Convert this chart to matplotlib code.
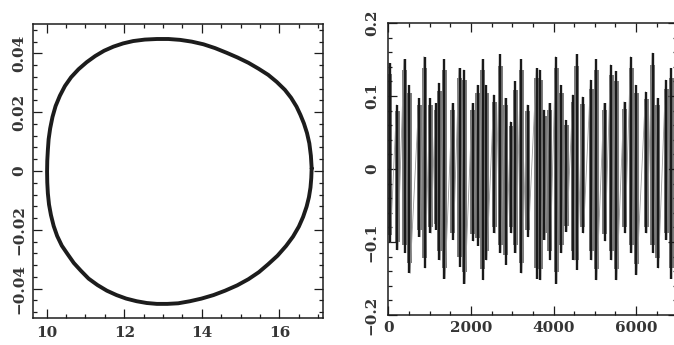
import numpy as np
import matplotlib
matplotlib.use("Agg")
import matplotlib.pyplot as plt
from matplotlib.ticker import MultipleLocator, FixedLocator

# ---------------- data ----------------
# Left panel: closed orbit (phase portrait)
loop_x = [16.83, 16.81, 16.77, 16.71, 16.63, 16.54, 16.44, 16.30, 16.14, 15.93,
          15.71, 15.46, 15.20, 14.92, 14.64, 14.34, 14.04, 13.74, 13.44, 13.14,
          12.84, 12.53, 12.23, 11.97, 11.72, 11.48, 11.25, 11.03, 10.82, 10.63,
          10.47, 10.34, 10.23, 10.15, 10.09, 10.05, 10.03, 10.015, 10.01, 10.015,
          10.03, 10.06, 10.11, 10.18, 10.27, 10.39, 10.54, 10.70, 10.88, 11.08,
          11.31, 11.55, 11.80, 12.05, 12.32, 12.58, 12.84, 13.11, 13.39, 13.69,
          13.99, 14.30, 14.60, 14.91, 15.20, 15.47, 15.71, 15.95, 16.17, 16.35,
          16.50, 16.61, 16.70, 16.76, 16.80, 16.82, 16.83]
loop_y = [0.0009, 0.0052, 0.0094, 0.0129, 0.0162, 0.0191, 0.0219, 0.0249, 0.0276, 0.0303,
          0.0327, 0.0348, 0.0368, 0.0386, 0.0402, 0.0418, 0.0431, 0.0440, 0.0446, 0.0449,
          0.0449, 0.0447, 0.0442, 0.0434, 0.0423, 0.0409, 0.0391, 0.0370, 0.0346, 0.0319,
          0.0289, 0.0256, 0.0221, 0.0184, 0.0145, 0.0108, 0.0071, 0.0035, -0.0002, -0.0039,
          -0.0076, -0.0114, -0.0150, -0.0187, -0.0221, -0.0254, -0.0283, -0.0313, -0.0339, -0.0366,
          -0.0388, -0.0407, -0.0422, -0.0434, -0.0443, -0.0449, -0.0452, -0.0452, -0.0450, -0.0443,
          -0.0434, -0.0422, -0.0407, -0.0389, -0.0368, -0.0344, -0.0317, -0.0288, -0.0255, -0.0223,
          -0.0189, -0.0156, -0.0121, -0.0089, -0.0056, -0.0024, 0.0009]

# Right panel: time series, each oscillation burst as (time, upper extreme, lower extreme)
ts_t = [30, 210, 388, 509, 751, 873, 1018, 1155, 1236, 1357, 1559, 1721, 1842, 2044,
        2166, 2287, 2367, 2569, 2707, 2836, 2973, 3078, 3216, 3377, 3600, 3676, 3781,
        3903, 4064, 4185, 4307, 4484, 4565, 4711, 4913, 5034, 5236, 5397, 5519, 5721,
        5882, 6003, 6246, 6407, 6528, 6731, 6852]
ts_hi = [0.145, 0.088, 0.150, 0.115, 0.097, 0.154, 0.097, 0.090, 0.118, 0.150, 0.090, 0.138,
         0.136, 0.090, 0.115, 0.150, 0.115, 0.102, 0.157, 0.097, 0.065, 0.120, 0.150, 0.088,
         0.138, 0.136, 0.081, 0.090, 0.154, 0.115, 0.067, 0.102, 0.157, 0.099, 0.122, 0.150,
         0.090, 0.143, 0.134, 0.092, 0.154, 0.115, 0.106, 0.159, 0.097, 0.122, 0.138]
ts_lo = [-0.100, -0.111, -0.115, -0.143, -0.093, -0.136, -0.088, -0.083, -0.125, -0.150,
         -0.097, -0.134, -0.157, -0.099, -0.105, -0.152, -0.125, -0.088, -0.115, -0.131,
         -0.088, -0.115, -0.143, -0.093, -0.150, -0.152, -0.097, -0.125, -0.157, -0.115,
         -0.086, -0.125, -0.138, -0.088, -0.125, -0.152, -0.099, -0.125, -0.152, -0.088,
         -0.115, -0.145, -0.088, -0.115, -0.136, -0.097, -0.150]

left_xticks = [10, 12, 14, 16]
left_yticks = [-0.04, -0.02, 0, 0.02, 0.04]
left_ylabels = ["\u22120.04", "\u22120.02", "0", "0.02", "0.04"]
right_xticks = [0, 2000, 4000, 6000]
right_yticks = [-0.2, -0.1, 0, 0.1, 0.2]
right_ylabels = ["\u22120.2", "\u22120.1", "0", "0.1", "0.2"]

# ---------------- figure ----------------
W, H = 674, 345
fig = plt.figure(figsize=(W / 100, H / 100), dpi=100)
fig.patch.set_facecolor("white")

font = dict(family="DejaVu Serif", size=11, weight="bold", color="#353535")
ink = "#1c1c1c"


def style(ax, xpad, ypad):
    for s in ax.spines.values():
        s.set_linewidth(1.1)
        s.set_color(ink)
    ax.tick_params(which="both", direction="in", top=True, right=True,
                   color=ink, width=0.9)
    ax.tick_params(which="major", length=6.5)
    ax.tick_params(which="minor", length=3.2)
    ax.tick_params(axis="x", pad=xpad)
    ax.tick_params(axis="y", pad=ypad)


# Left panel
ax1 = fig.add_axes([33.3 / W, 1 - 318 / H, 290 / W, 294 / H])
ax1.plot(loop_x, loop_y, color=ink, lw=2.8, solid_joinstyle="round",
         solid_capstyle="round")
ax1.set_xlim(9.655, 17.13)
ax1.set_ylim(-0.05, 0.05)
ax1.xaxis.set_major_locator(FixedLocator(left_xticks))
ax1.xaxis.set_minor_locator(MultipleLocator(0.5))
ax1.yaxis.set_major_locator(FixedLocator(left_yticks))
ax1.yaxis.set_minor_locator(MultipleLocator(0.004))
ax1.set_xticklabels([str(v) for v in left_xticks], fontdict=font)
ax1.set_yticklabels(left_ylabels, fontdict=font, rotation=90, va="center")
style(ax1, 6, 5)

# Right panel: dense oscillation drawn as bursts
ax2 = fig.add_axes([388.5 / W, 1 - 315 / H, 288.8 / W, 292 / H])
hi = np.array(ts_hi)
lo = np.array(ts_lo)
# grey body of each burst
ax2.bar(ts_t, (hi - lo) * 0.9, bottom=lo * 0.9, width=125,
        color="#7c7c7c", linewidth=0)
# connecting trace
tt, yy = [], []
for t, h, l in zip(ts_t, ts_hi, ts_lo):
    tt += [t - 15, t + 15]
    yy += [h, l]
ax2.plot(tt, yy, color="#9a9a9a", lw=0.6)
# dark extreme spikes
ax2.vlines(ts_t, ts_lo, ts_hi, color="#1a1a1a", lw=1.7)
ax2.set_xlim(0, 7000)
ax2.set_ylim(-0.2, 0.2)
ax2.xaxis.set_major_locator(FixedLocator(right_xticks))
ax2.xaxis.set_minor_locator(MultipleLocator(500))
ax2.yaxis.set_major_locator(FixedLocator(right_yticks))
ax2.yaxis.set_minor_locator(MultipleLocator(0.02))
ax2.set_xticklabels([str(v) for v in right_xticks], fontdict=font)
ax2.set_yticklabels(right_ylabels, fontdict=font, rotation=90, va="center")
style(ax2, 4, 7)

fig.savefig("out.png", dpi=100, facecolor="white")
